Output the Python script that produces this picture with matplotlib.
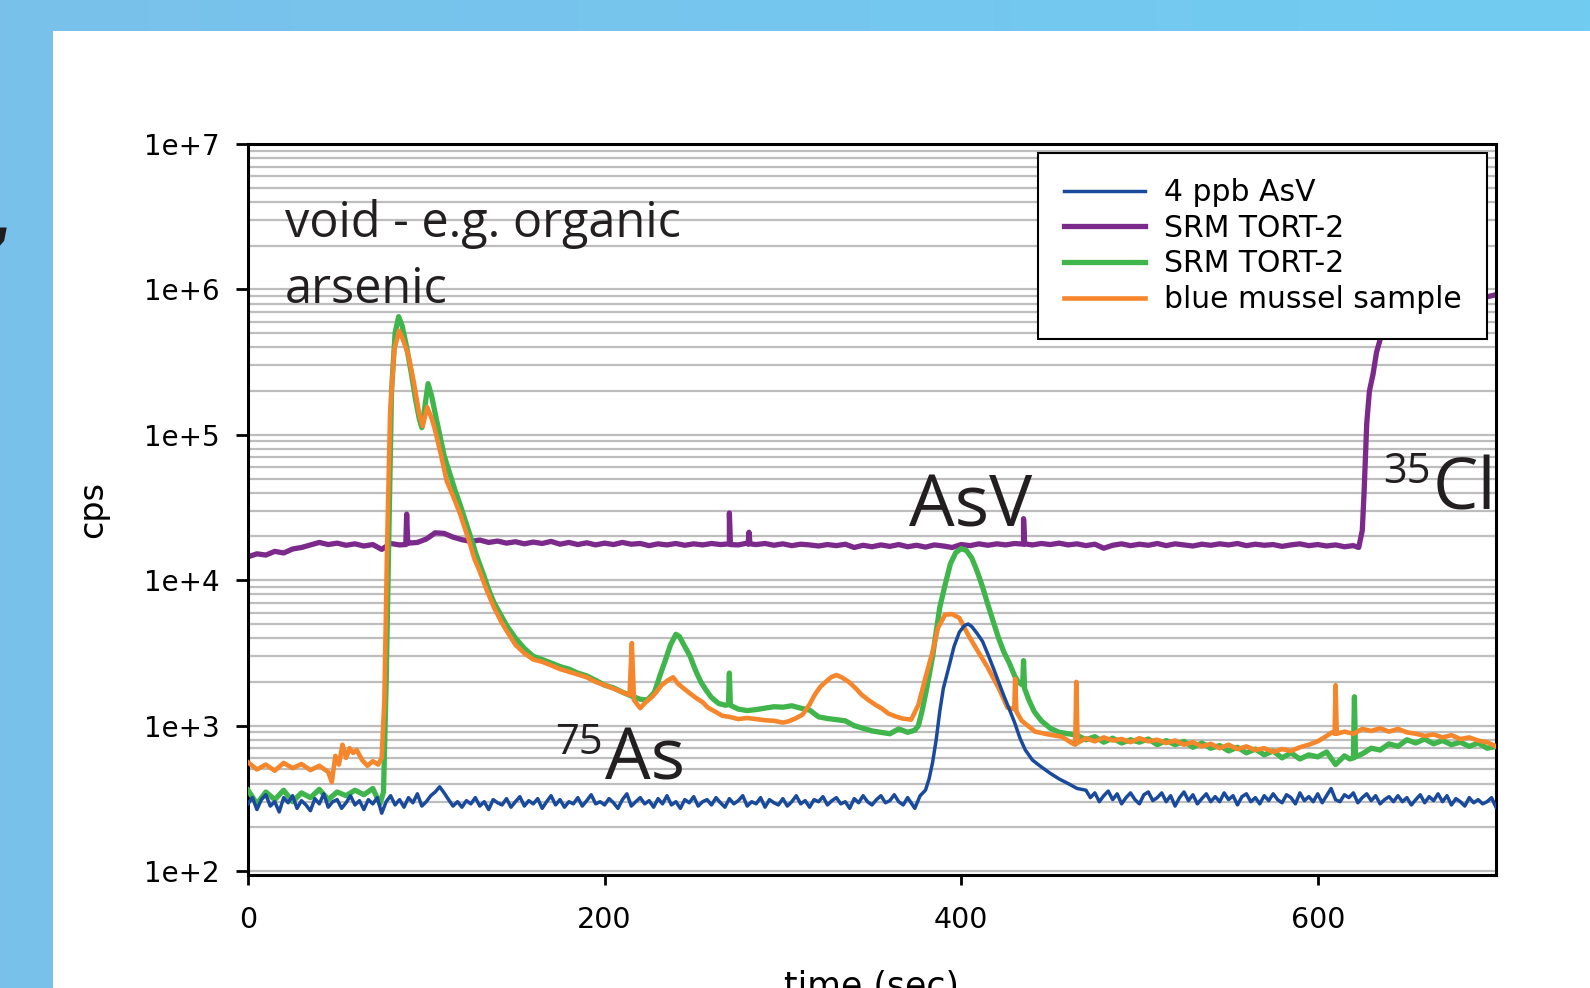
import numpy as np
import matplotlib
matplotlib.use("Agg")
import matplotlib.pyplot as plt
from matplotlib.ticker import LogLocator, FuncFormatter, FixedLocator, NullFormatter
from matplotlib.patches import Rectangle

# ---------------- data ----------------
# 4 ppb AsV (blue)
blue_t = np.r_[np.arange(0, 371, 2.5),
               [374, 377, 380, 382, 384, 386, 388, 390, 393, 396, 399, 402, 404, 406, 409,
                412, 415, 418, 421, 424, 427, 430, 433, 436, 440, 445, 450, 455, 460, 465],
               np.arange(470, 701, 2.5)]
blue_v = np.r_[[290, 320, 265, 310, 335, 280, 300, 255, 320, 295,
                330, 270, 305, 285, 260, 315, 290, 340, 275, 300,
                310, 270, 295, 330, 285, 305, 265, 310, 290, 320,
                250, 300, 330, 285, 310, 275, 320, 295, 340, 280,
                300, 330, 350, 380, 345, 310, 280, 300, 275, 305,
                290, 320, 280, 300, 265, 310, 295, 285, 315, 275,
                300, 325, 280, 305, 290, 315, 270, 300, 330, 285,
                310, 275, 300, 290, 320, 280, 305, 335, 290, 300,
                285, 315, 295, 270, 310, 340, 280, 300, 320, 290,
                305, 275, 315, 290, 330, 285, 300, 270, 310, 295,
                325, 280, 300, 310, 285, 320, 295, 275, 315, 290,
                305, 330, 280, 300, 290, 320, 275, 310, 295, 285,
                315, 280, 300, 330, 290, 305, 275, 310, 300, 325,
                285, 305, 320, 290, 300, 270, 315, 295, 330, 300,
                285, 310, 330, 295, 305, 335, 300, 285, 320],
               [270, 330, 360, 430, 560, 800, 1250, 1800, 2500, 3500, 4400, 4900, 5000, 4800, 4300,
                3800, 3100, 2500, 2000, 1600, 1300, 1050, 820, 680, 580, 520, 470, 430, 400, 370],
               [360, 320, 345, 300, 330, 355, 310, 340, 290, 320,
                345, 310, 290, 335, 350, 305, 320, 345, 300, 330,
                280, 320, 350, 305, 335, 290, 315, 340, 300, 325,
                300, 345, 310, 330, 285, 325, 340, 300, 320, 290,
                330, 305, 340, 310, 295, 335, 320, 290, 345, 305,
                325, 300, 340, 295, 330, 370, 310, 300, 335, 320,
                345, 295, 320, 340, 305, 330, 290, 310, 325, 300,
                330, 300, 320, 285, 310, 335, 295, 325, 305, 340,
                300, 330, 285, 315, 300, 280, 320, 295, 310, 290,
                300, 320, 275]]

# SRM TORT-2 (purple, 35Cl)
purple_base_t = np.arange(0, 621, 5)
purple_base_v = [14500, 15200, 14900, 15800, 15400, 16400, 16800, 17500, 18200, 17600,
                 18000, 17400, 17800, 17200, 17600, 16300, 17900, 17500, 18000, 18200,
                 19200, 21200, 21000, 19800, 19000, 18500, 18900, 18200, 18600, 18000,
                 18400, 17800, 18300, 17900, 18500, 17700, 18200, 17600, 18100, 17500,
                 18000, 17600, 18200, 17700, 17900, 17300, 17800, 17500, 17900, 17400,
                 17800, 17500, 17900, 17600, 17800, 17500, 18000, 17600, 17900, 17400,
                 17800, 17300, 17700, 17500, 17200, 17600, 17300, 17700, 16800, 17400,
                 17000, 17500, 17100, 17600, 17000, 17400, 16900, 17500, 17200, 16800,
                 17600, 17300, 17800, 17400, 17800, 17500, 17900, 17700, 17500, 17900,
                 17600, 18000, 17500, 17800, 17300, 17700, 16600, 17400, 17800, 17300,
                 17700, 17400, 17900, 17300, 17800, 17500, 17200, 17700, 17400, 17800,
                 17500, 17900, 17300, 17700, 17400, 17600, 17100, 17500, 17800, 17300,
                 17600, 17200, 17500, 17000, 17300]
purple_extra_t = [88.5, 89, 89.6, 269.5, 270, 270.6, 280.5, 281, 281.6, 434.5, 435, 435.6,
                  623, 625, 626, 627.5, 629, 631, 633, 636, 650, 670, 690, 700]
purple_extra_v = [17600, 28500, 17900, 17800, 29000, 17600, 17700, 21400, 17800, 17700, 26500, 17800,
                  16800, 22000, 40000, 120000, 200000, 260000, 370000, 500000, 620000, 760000, 860000, 920000]

# SRM TORT-2 (green)
green_t = np.r_[np.arange(0, 71, 5),
                [74, 76, 77.5, 79, 80.5, 82.5, 84.5, 86.5, 89, 91.5, 94, 96, 97.5, 99, 101, 103, 105,
                 107.5, 110, 113, 116, 119, 122, 125, 128, 132, 135, 138, 142, 145, 150, 155, 160,
                 165, 170, 175, 180, 185, 190, 195, 200, 205, 210, 215, 220, 224, 228, 231, 234,
                 237, 240, 242, 245, 248, 251, 254, 257, 260, 264, 268, 269.5, 270, 270.6, 275,
                 280, 285, 290, 295, 300, 305, 310, 315, 320, 325, 330, 335, 340, 345, 350, 355,
                 360, 365, 370, 374, 376, 378, 380, 382, 384, 386, 388, 391, 394, 397, 400, 403,
                 406, 409, 412, 415, 418, 421, 424, 427, 430, 432, 434.5, 435, 435.6, 438, 441,
                 445, 450, 455, 460, 465],
                np.arange(470, 616, 5),
                [618, 620, 620.6, 621.2, 625],
                np.arange(630, 701, 5)]
green_v = np.r_[[360, 290, 350, 310, 360, 300, 345, 320, 365, 310, 350, 330, 360, 335, 370],
                [290, 350, 2000, 20000, 200000, 500000, 650000, 560000, 400000, 270000, 175000,
                 130000, 112000, 150000, 225000, 185000, 140000, 100000, 72000, 55000, 42000,
                 33000, 25500, 19600, 15000, 11000, 8600, 7000, 5700, 4900, 4000, 3400, 3000,
                 2850, 2700, 2550, 2450, 2300, 2200, 2050, 1900, 1820, 1700, 1600, 1520, 1500,
                 1700, 2200, 2800, 3600, 4250, 4100, 3500, 3000, 2400, 2000, 1750, 1560, 1420,
                 1380, 1400, 2300, 1380, 1300, 1270, 1290, 1320, 1350, 1340, 1370, 1320, 1280,
                 1150, 1120, 1100, 1080, 1000, 960, 920, 900, 880, 950, 900, 930, 1000, 1250,
                 1640, 2200, 3000, 4400, 6500, 9300, 13000, 15500, 16500, 16000, 14200, 11500,
                 9000, 6800, 5200, 4000, 3200, 2700, 2200, 2000, 1900, 2800, 1800, 1500, 1250,
                 1080, 960, 900, 880, 860],
                [800, 840, 770, 820, 760, 800, 770, 810, 740, 790,
                 740, 780, 710, 760, 700, 730, 670, 710, 650, 690,
                 630, 670, 600, 650, 590, 630, 610, 660, 540, 620],
                [590, 600, 1580, 610, 640],
                [700, 680, 750, 720, 800, 760, 810, 750, 790, 740, 770, 720, 760, 700, 720]]

# blue mussel sample (orange)
orange_t = np.r_[np.arange(0, 46, 5),
                 [47, 49, 51, 53, 55, 57, 59, 61, 64, 67, 70, 73, 75, 76.5, 78, 79.7, 82, 84.7, 87,
                  90, 93, 96, 98, 100.5, 103, 105, 108, 111.5, 115, 119, 122, 124.5, 127, 130,
                  134, 138, 142, 145, 150, 155, 160, 165, 170, 175, 180, 185, 190, 195, 200, 205,
                  210, 214, 215.3, 216.5, 220, 223, 226, 229, 232, 235.5, 238.5, 241, 244, 247,
                  251, 255, 258, 262, 266, 270, 275, 280, 285, 290, 295, 300, 303, 307, 311, 315,
                  318, 321, 324, 327, 330, 333, 337, 341, 344, 348, 352, 356, 359, 363, 367, 372,
                  376, 380, 384, 387, 391, 395, 399, 404, 409.5, 415, 421, 426, 429.8, 430.3, 431,
                  434, 441.5, 449, 456.5, 462, 464, 464.6, 465.3],
                 np.arange(470, 606, 5),
                 [608, 609.5, 610, 610.7, 615, 620],
                 np.arange(625, 701, 5)]
orange_v = np.r_[[560, 500, 540, 490, 555, 510, 545, 495, 530, 480],
                 [410, 620, 540, 740, 600, 700, 650, 680, 580, 530, 570, 540, 600, 1500, 16600,
                  139000, 380000, 520000, 450000, 350000, 230000, 140000, 115000, 155000, 130000,
                  107000, 75000, 48000, 38000, 28500, 22000, 17800, 14000, 11500, 8500, 6500,
                  5200, 4500, 3600, 3150, 2850, 2750, 2600, 2450, 2350, 2250, 2150, 2000, 1900,
                  1800, 1700, 1620, 3700, 1500, 1320, 1450, 1550, 1700, 1900, 2050, 2150, 1950,
                  1820, 1700, 1560, 1450, 1330, 1250, 1170, 1150, 1110, 1130, 1110, 1090, 1080,
                  1050, 1070, 1120, 1190, 1400, 1640, 1850, 2000, 2150, 2230, 2150, 2000, 1800,
                  1640, 1500, 1390, 1300, 1215, 1160, 1120, 1100, 1390, 2140, 3230, 4700, 5800,
                  5850, 5500, 4200, 3230, 2500, 1820, 1330, 1300, 2100, 1250, 1080, 910, 870,
                  840, 760, 740, 2000, 760],
                 [820, 780, 830, 790, 810, 770, 820, 780, 800, 760,
                  790, 740, 770, 720, 750, 700, 740, 690, 720, 680,
                  700, 660, 690, 670, 710, 740, 780, 850],
                 [900, 880, 1900, 880, 910, 880],
                 [950, 920, 960, 910, 950, 900, 880, 850, 870, 830, 860, 810, 830, 790, 770, 720]]

series_labels = ["4 ppb AsV", "SRM TORT-2", "SRM TORT-2", "blue mussel sample"]
x_ticks = [0, 200, 400, 600]
y_ticks = [1e2, 1e3, 1e4, 1e5, 1e6, 1e7]

# ---------------- figure ----------------
W, H = 1590, 988
fig = plt.figure(figsize=(W / 100, H / 100), dpi=100)

# slide background: light-blue frame with white panel
bg = fig.add_axes([0, 0, 1, 1], zorder=-10)
grad = np.linspace(0, 1, 256)[None, :, None]
c0 = np.array([0x79, 0xc1, 0xeb]) / 255
c1 = np.array([0x71, 0xcc, 0xf2]) / 255
bg.imshow(c0 + (c1 - c0) * grad, aspect="auto", extent=[0, 1, 0, 1])
bg.add_patch(Rectangle((53 / W, 0), 1 - 53 / W, 1 - 31 / H, transform=bg.transAxes,
                       facecolor="white", edgecolor="none"))
bg.set_xlim(0, 1)
bg.set_ylim(0, 1)
bg.axis("off")
# fragment of slide text in the left margin
fig.text(17 / W, 1 - 244 / H, ",", fontsize=64, fontweight="bold", fontstyle="italic",
         color="#1e1e1e", ha="right", va="baseline", family="DejaVu Sans")

ax = fig.add_axes([248 / W, 1 - 875 / H, (1496 - 248) / W, (875 - 144) / H])
ax.set_facecolor("none")

ax.set_yscale("log")
ax.set_xlim(0, 700)
ax.set_ylim(94, 1e7)

p_t = np.r_[purple_base_t, purple_extra_t]
p_v = np.r_[purple_base_v, purple_extra_v]
order = np.argsort(p_t, kind="stable")
l_purple, = ax.plot(p_t[order], p_v[order], color="#7b2a8b", lw=3.8, zorder=2)
l_green, = ax.plot(green_t, green_v, color="#3fb54b", lw=3.8, zorder=3)
l_orange, = ax.plot(orange_t, orange_v, color="#f5862b", lw=3.3, zorder=4)
l_blue, = ax.plot(blue_t, blue_v, color="#1a4a9c", lw=2.5, zorder=5)

# grid
ax.yaxis.set_major_locator(FixedLocator(y_ticks))
ax.yaxis.set_minor_locator(LogLocator(base=10, subs=np.arange(2, 10)))
ax.yaxis.set_minor_formatter(NullFormatter())
ax.yaxis.set_major_formatter(FuncFormatter(lambda v, p: f"1e+{int(round(np.log10(v)))}"))
ax.set_xticks(x_ticks)
ax.grid(True, which="both", axis="y", color="#bdbdbd", lw=1.6)
ax.set_axisbelow(True)

for s in ax.spines.values():
    s.set_linewidth(2.2)
    s.set_color("black")

ax.tick_params(axis="y", which="major", length=8.5, width=2, pad=12, labelsize=20, direction="out")
ax.tick_params(axis="y", which="minor", length=0)
ax.tick_params(axis="x", which="major", length=7.5, width=2, pad=15, labelsize=20.5, direction="out")

ax.set_ylabel("cps", fontsize=24, labelpad=25)
ax.set_xlabel("time (sec)", fontsize=25, labelpad=26)

leg = ax.legend([l_blue, l_purple, l_green, l_orange], series_labels, loc="upper right",
                fontsize=21.5, frameon=True, fancybox=False, framealpha=1, edgecolor="black",
                handlelength=2.7, handletextpad=0.65, labelspacing=0.22, borderpad=0.85,
                borderaxespad=0.3)
leg.get_frame().set_linewidth(1.5)
leg.set_zorder(10)

# annotations
ann = dict(family="Open Sans", color="#231f20", transform=ax.transData, va="baseline", ha="left")
ax.text(20.8, 2.29e6, "void - e.g. organic", fontsize=35, **ann)
ax.text(20.8, 8.1e5, "arsenic", fontsize=35, **ann)
ax.text(370.5, 23500, "AsV", fontsize=52, **ann)
ax.text(172.0, 641, "75", fontsize=30, **ann)
ax.text(200.3, 425, "As", fontsize=52, **ann)
ax.text(636.8, 46700, "35", fontsize=30, **ann)
ax.text(664.2, 30900, "Cl", fontsize=52, **ann)

fig.savefig("out.png", dpi=100)
